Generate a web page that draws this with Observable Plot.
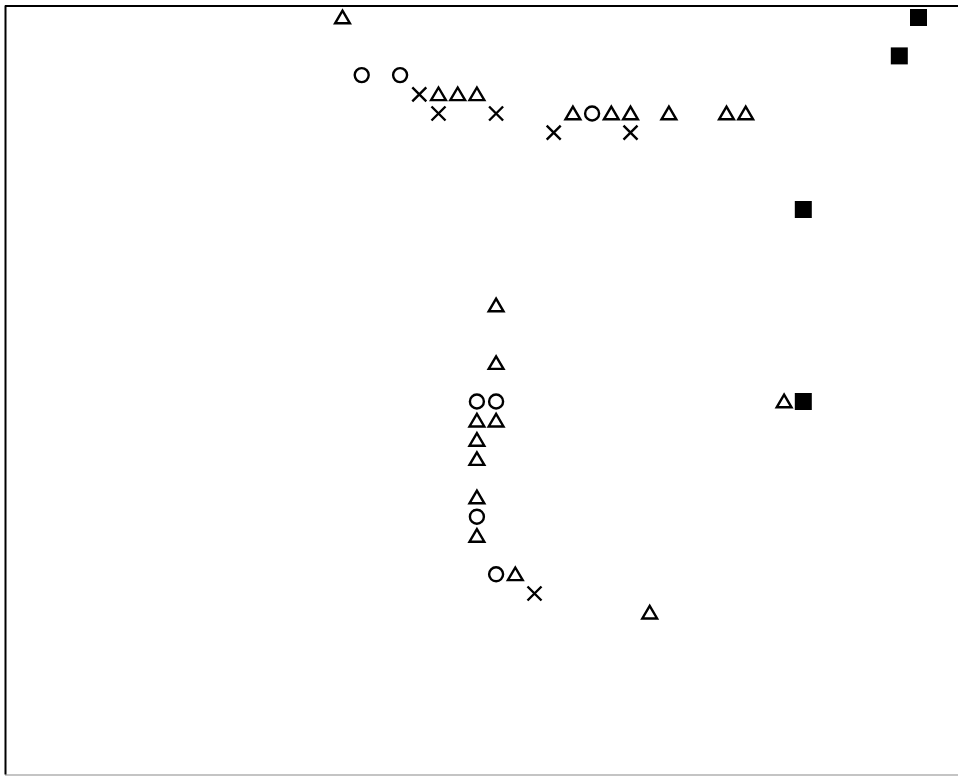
<!DOCTYPE html>
<html>
<head>
<meta charset="utf-8">
<script src="https://cdn.jsdelivr.net/npm/d3@7"></script>
<script src="https://cdn.jsdelivr.net/npm/@observablehq/plot@0.6"></script>
<style>
  html, body { margin: 0; padding: 0; background: #fff; }
  #chart svg { display: block; }
</style>
</head>
<body>
<div id="chart"></div>
<script>
// Grid positions (column, row); rows grow downward.
const triangleX = [0, 5, 6, 7, 12, 14, 15, 17, 20, 21, 8, 8, 23, 7, 8, 7, 7, 7, 7, 9, 16];
const triangleY = [0, 4, 4, 4, 5, 5, 5, 5, 5, 5, 15, 18, 20, 21, 21, 22, 23, 25, 27, 29, 31];
const circleX = [1, 3, 13, 7, 8, 7, 8];
const circleY = [3, 3, 5, 20, 20, 26, 29];
const crossX = [4, 5, 8, 11, 15, 10];
const crossY = [4, 5, 5, 6, 6, 30];
const squareX = [30, 29, 24, 24];
const squareY = [0, 2, 10, 20];

// frame extents (in the same grid units)
const frameLeft = -17.552, frameTop = -0.599, frameBottom = 39.453, frameRight = 33;

const pts = (xs, ys) => xs.map((x, i) => ({x, y: ys[i]}));

const triSymbol = {draw(c) { c.moveTo(0, -6.8); c.lineTo(7.4, 5.8); c.lineTo(-7.4, 5.8); c.closePath(); }};
const timesSymbol = {draw(c) { c.moveTo(-7, -7); c.lineTo(7, 7); c.moveTo(7, -7); c.lineTo(-7, 7); }};
const squareSymbol = {draw(c) { c.rect(-8.5, -8.5, 17, 17); }};

const chart = Plot.plot({
  width: 958,
  height: 776,
  marginTop: 0, marginRight: 0, marginBottom: 0, marginLeft: 0,
  style: {background: "#fff"},
  x: {domain: [-17.8125, 32.0833], axis: null},
  y: {domain: [39.53125, -0.8854], axis: null},
  marks: [
    Plot.ruleY([frameTop], {x1: frameLeft, x2: frameRight, stroke: "#000", strokeWidth: 2}),
    Plot.ruleY([frameBottom], {x1: frameLeft, x2: frameRight, stroke: "#b0b0b0", strokeWidth: 1.5}),
    Plot.ruleX([frameLeft], {y1: frameTop, y2: frameBottom, stroke: "#000", strokeWidth: 2}),
    Plot.dot(pts(triangleX, triangleY), {x: "x", y: "y", symbol: triSymbol, fill: "none", stroke: "#000", strokeWidth: 2.4, strokeLinejoin: "miter", r: 7}),
    Plot.dot(pts(circleX, circleY), {x: "x", y: "y", symbol: "circle", r: 7, fill: "none", stroke: "#000", strokeWidth: 2.4}),
    Plot.dot(pts(crossX, crossY), {x: "x", y: "y", symbol: timesSymbol, fill: "none", stroke: "#000", strokeWidth: 2.4, r: 7}),
    Plot.dot(pts(squareX, squareY), {x: "x", y: "y", symbol: squareSymbol, fill: "#000", stroke: "none", r: 8})
  ]
});
document.getElementById("chart").append(chart);
</script>
</body>
</html>
